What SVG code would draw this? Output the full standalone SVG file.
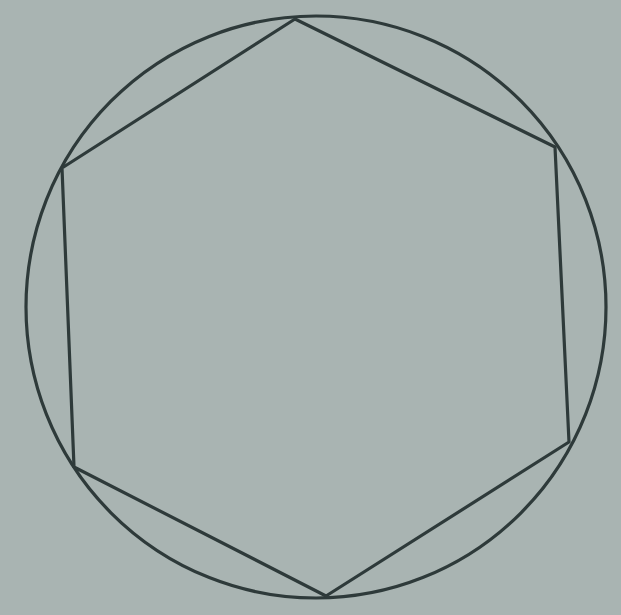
<svg xmlns="http://www.w3.org/2000/svg" width="621" height="615" viewBox="0 0 621 615">
<style>.ln{fill:none;stroke:#2e3a3a;stroke-width:3.2;stroke-linejoin:round}</style>
<rect width="621" height="615" fill="#a9b4b2"/>
<g id="circle"><ellipse class="ln" cx="316" cy="307" rx="290" ry="291"/></g>
<g id="hexagon"><polygon class="ln" points="295,19 555,147 569,442 326,596 74,467 62,168"/></g>
</svg>
